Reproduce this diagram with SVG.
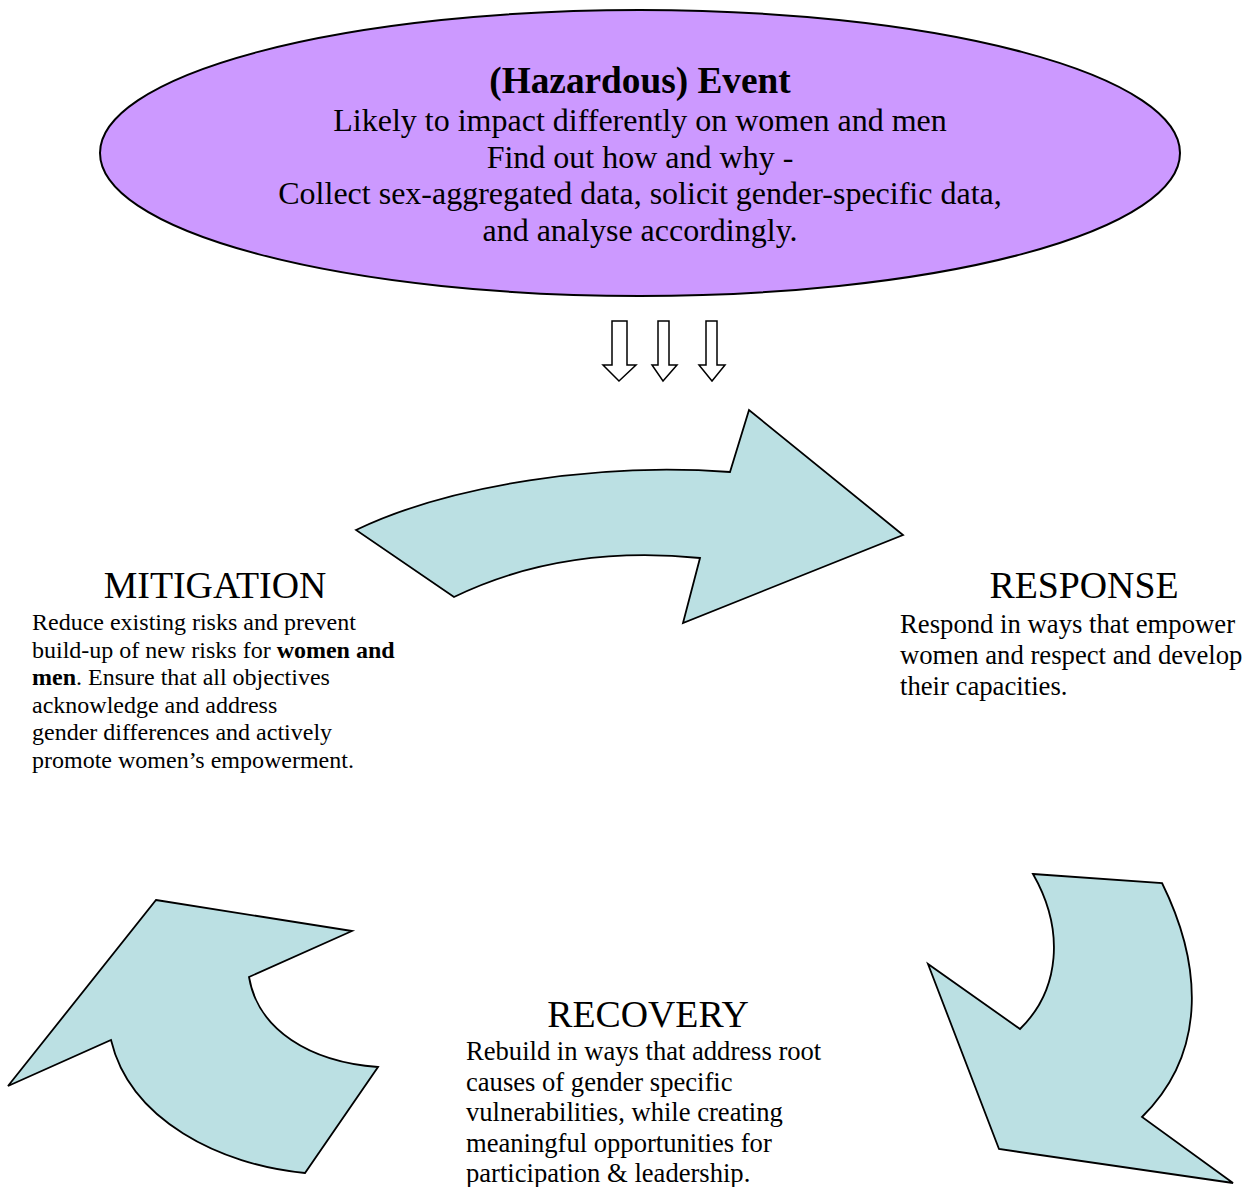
<svg xmlns="http://www.w3.org/2000/svg" width="1253" height="1187" viewBox="0 0 1253 1187">
<style>
.t{font-family:"Liberation Serif","Times New Roman",serif;fill:#000}
.h{font-size:37.8px}
.shape{fill:#BBE0E3;stroke:#000;stroke-width:1.8;stroke-linejoin:miter}
.down{fill:#fff;stroke:#000;stroke-width:1.5}
</style>
<rect width="1253" height="1187" fill="#fff"/>
<g id="event">
<ellipse cx="640" cy="153" rx="540" ry="143" fill="#CC99FF" stroke="#000" stroke-width="2"/>
<text class="t" x="640" y="93" font-size="37.3" font-weight="bold" text-anchor="middle">(Hazardous) Event</text>
<text class="t" x="640" y="131" font-size="32" text-anchor="middle">Likely to impact differently on women and men</text>
<text class="t" x="640" y="168" font-size="32" text-anchor="middle">Find out how and why -</text>
<text class="t" x="640" y="204" font-size="32" text-anchor="middle">Collect sex-aggregated data, solicit gender-specific data,</text>
<text class="t" x="640" y="241" font-size="32" text-anchor="middle">and analyse accordingly.</text>
</g>
<g id="connectors">
<g id="down-arrows">
<polygon class="down" points="612,321 627,321 627,365 636,365 619,381 603,365 612,365"/>
<polygon class="down" points="658,321 669,321 669,365 677,365 663,381 652,365 658,365"/>
<polygon class="down" points="706,321 717,321 717,365 725,365 712,381 699,365 706,365"/>
</g>
<path id="arrow-mitigation-response" class="shape" d="M356,530 C450,485 600,462 730,472 L749,410 L903,535 L683,623 L700,558 C600,548 520,565 454,597 Z"/>
<path id="arrow-response-recovery" class="shape" d="M1033,874 L1162,883 C1200,960 1210,1050 1142,1117 L1233,1183 L999,1149 L928,964 L1020,1029 C1060,990 1065,930 1033,874 Z"/>
<path id="arrow-recovery-mitigation" class="shape" d="M156,900 L352,931 L249,977 C258,1030 310,1062 378,1067 L305,1173 C220,1165 130,1120 111,1040 L8,1086 Z"/>
</g>
<g id="mitigation">
<text class="t h" x="215" y="598" text-anchor="middle">MITIGATION</text>
<text class="t" x="32" font-size="24">
<tspan x="32" y="630">Reduce existing risks and prevent</tspan>
<tspan x="32" y="657.6">build-up of new risks for <tspan font-weight="bold">women and</tspan></tspan>
<tspan x="32" y="685.2"><tspan font-weight="bold">men</tspan>. Ensure that all objectives</tspan>
<tspan x="32" y="712.8">acknowledge and address</tspan>
<tspan x="32" y="740.4">gender differences and actively</tspan>
<tspan x="32" y="768">promote women’s empowerment.</tspan>
</text>
</g>
<g id="response">
<text class="t h" x="1084" y="598" text-anchor="middle">RESPONSE</text>
<text class="t" font-size="26.7">
<tspan x="900" y="633">Respond in ways that empower</tspan>
<tspan x="900" y="664">women and respect and develop</tspan>
<tspan x="900" y="695">their capacities.</tspan>
</text>
</g>
<g id="recovery">
<text class="t h" x="648" y="1027" text-anchor="middle">RECOVERY</text>
<text class="t" font-size="26.6">
<tspan x="466" y="1060">Rebuild in ways that address root</tspan>
<tspan x="466" y="1090.5">causes of gender specific</tspan>
<tspan x="466" y="1121">vulnerabilities, while creating</tspan>
<tspan x="466" y="1151.5">meaningful opportunities for</tspan>
<tspan x="466" y="1182">participation &amp; leadership.</tspan>
</text>
</g>
</svg>
